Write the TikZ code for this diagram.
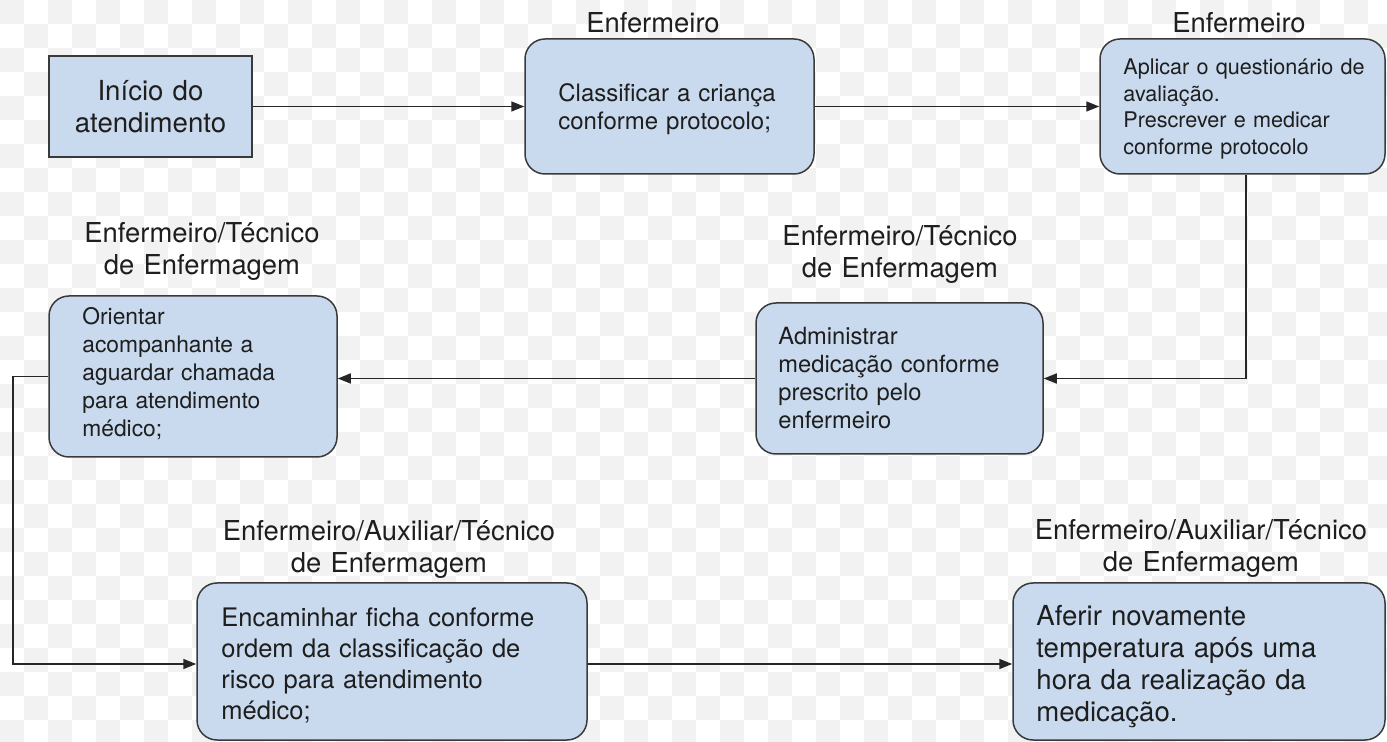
\documentclass[tikz,border=0pt]{standalone}
\usepackage{fontspec}
\setmainfont{TeX Gyre Heros}
\usetikzlibrary{arrows.meta}
\definecolor{boxfill}{HTML}{C9DAEE}
\definecolor{boxline}{HTML}{3A3A3A}
\definecolor{txt}{HTML}{1E1E1E}
\definecolor{chk}{HTML}{F2F2F2}
\begin{document}
\begin{tikzpicture}[x=0.5pt,y=-0.5pt,
  box/.style={draw=boxline, line width=0.75pt, fill=boxfill, inner sep=0pt},
  rbox/.style={box, rounded corners=10pt},
  lbl/.style={inner sep=0pt, text width=200pt, align=center, anchor=base, text=txt,
    font=\fontsize{13.7pt}{16pt}\selectfont},
  txtblk/.style={inner sep=0pt, text width=220pt, align=left, anchor=base west, text=txt},
  conn/.style={draw=black!85, line width=0.75pt, -{Triangle[length=6.5pt,width=5pt]}},
]
\useasboundingbox (0,0) rectangle (1387,742);
\clip (0,0) rectangle (1387,742);
\fill[white] (0,0) rectangle (1387,742);
\foreach \j in {0,...,30}{
  \pgfmathtruncatemacro\off{mod(\j,2)*24}
  \foreach \i in {0,48,...,1392}{
    \fill[chk] ({\i+\off},{\j*24}) rectangle ++(24,24);
  }
}

% boxes
\node[box,  minimum width=101.5pt, minimum height=50.5pt] (start)    at (150.5,106.5) {};
\node[rbox, minimum width=144.5pt, minimum height=67.5pt] (classify) at (669.5,106.5) {};
\node[rbox, minimum width=142.5pt, minimum height=67.5pt] (apply)    at (1242.5,106.5) {};
\node[rbox, minimum width=144pt,   minimum height=80.5pt] (orient)   at (193,376.5) {};
\node[rbox, minimum width=143.5pt, minimum height=75.5pt] (admin)    at (899.5,378.5) {};
\node[rbox, minimum width=195pt,   minimum height=78.5pt] (route)    at (392,661.5) {};
\node[rbox, minimum width=186pt,   minimum height=78.5pt] (measure)  at (1199,661.5) {};

% texts in boxes
\node[txtblk, text width=100pt, align=center, anchor=base,
  font=\fontsize{13.8pt}{16pt}\selectfont] (tstart) at (150.5,101) {Início do\\atendimento};
\node[txtblk, font=\fontsize{12pt}{14pt}\selectfont] (tclassify) at (558,102)
  {Classificar a criança\\conforme protocolo;};
\node[txtblk, font=\fontsize{10.8pt}{13.2pt}\selectfont] (tapply) at (1123,75)
  {Aplicar o questionário de\\avaliação.\\Prescrever e medicar\\conforme protocolo};
\node[txtblk, font=\fontsize{11.4pt}{14pt}\selectfont] (torient) at (82,325)
  {Orientar\\acompanhante a\\aguardar chamada\\para atendimento\\médico;};
\node[txtblk, font=\fontsize{11.85pt}{14pt}\selectfont] (tadmin) at (778,345)
  {Administrar\\medicação conforme\\prescrito pelo\\enfermeiro};
\node[txtblk, font=\fontsize{12.75pt}{15.5pt}\selectfont] (troute) at (221,627)
  {Encaminhar ficha conforme\\ordem da classificação de\\risco para atendimento\\médico;};
\node[txtblk, font=\fontsize{13.8pt}{16.15pt}\selectfont] (tmeasure) at (1036,625)
  {Aferir novamente\\temperatura após uma\\hora da realização da\\medicação.};

% role labels
\node[lbl] (l1) at (653,33)  {Enfermeiro};
\node[lbl] (l2) at (1239,33) {Enfermeiro};
\node[lbl] (l3) at (202,243) {Enfermeiro/Técnico\\de Enfermagem};
\node[lbl] (l4) at (900,246) {Enfermeiro/Técnico\\de Enfermagem};
\node[lbl] (l5) at (389,541) {Enfermeiro/Auxiliar/Técnico\\de Enfermagem};
\node[lbl] (l6) at (1201,540) {Enfermeiro/Auxiliar/Técnico\\de Enfermagem};

% connectors
\coordinate (bend) at (13,500);
\draw[conn] (start) -- (classify);
\draw[conn] (classify) -- (apply);
\draw[conn] ([xshift=1.75pt]apply.south) |- (admin.east);
\draw[conn] (admin.west) -- (orient.east |- admin.west);
\draw[conn] (orient.west) -| (bend) |- ([yshift=-1.25pt]route.west);
\draw[conn] ([yshift=-1.25pt]route.east) -- ([yshift=-1.25pt]measure.west);
\end{tikzpicture}
\end{document}
